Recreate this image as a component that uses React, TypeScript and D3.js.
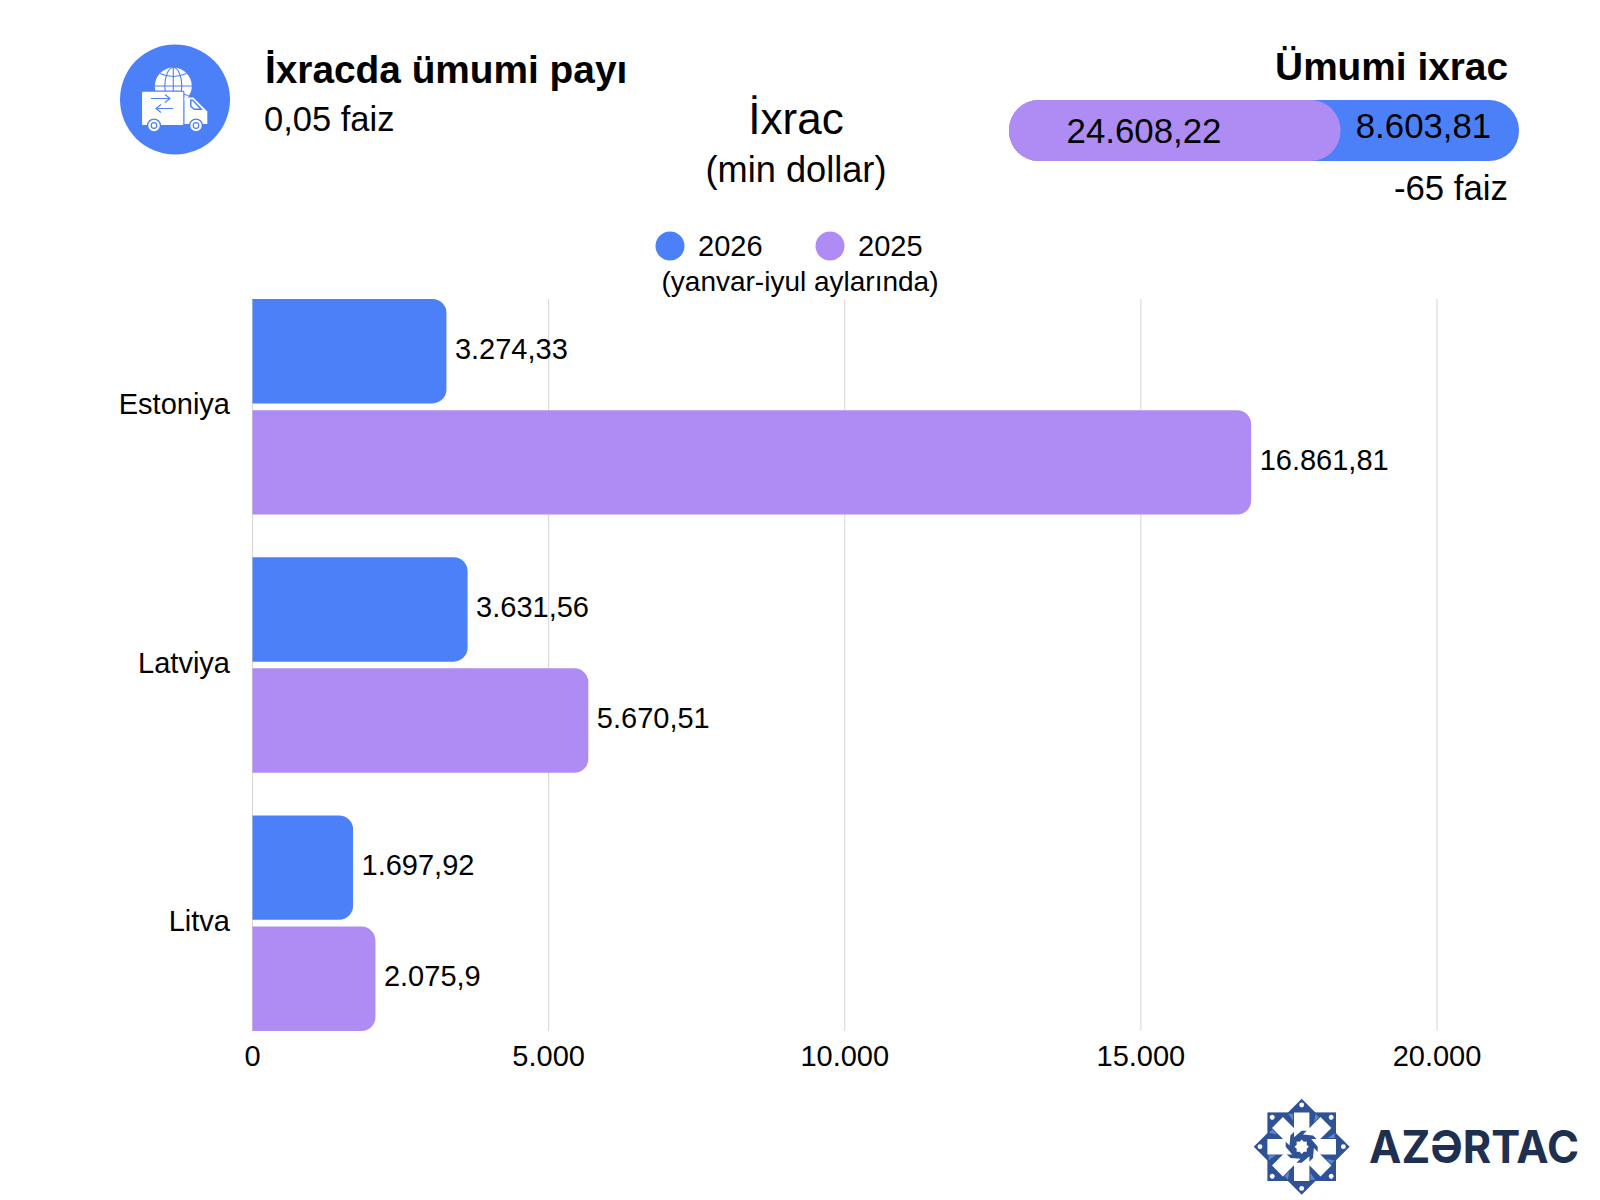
import * as d3 from 'd3';

// ─── Data ───────────────────────────────────────────────────

const COUNTRIES = ['Estoniya', 'Latviya', 'Litva'];
const YEARS = ['2026', '2025'];
const VALUES_2026 = [3274.33, 3631.56, 1697.92];
const VALUES_2025 = [16861.81, 5670.51, 2075.9];
const LABELS_2026 = ['3.274,33', '3.631,56', '1.697,92'];
const LABELS_2025 = ['16.861,81', '5.670,51', '2.075,9'];
const X_TICKS = [0, 5000, 10000, 15000, 20000];
const X_TICK_LABELS = ['0', '5.000', '10.000', '15.000', '20.000'];
const TOTAL_LABELS = ['24.608,22', '8.603,81'];
const DECLINE_PERCENT = 65;

// ─── Constants ──────────────────────────────────────────────

const BLUE = '#4c80f9';
const PURPLE = '#ae8cf4';
const GRID = '#d6d6d6';
const INK = '#000';
const NAVY = '#1e2f50';
const LOGO_BLUE = '#2f5296';
const LOGO_LIGHT = '#5f86cc';
const FONT = '"Liberation Sans", Arial, sans-serif';

const x = d3.scaleLinear().domain([0, 20000]).range([252.5, 1437]);
const y0 = d3.scaleBand().domain(COUNTRIES).range([299, 1031]).paddingInner(0.165).paddingOuter(0);
const y1 = d3.scaleBand().domain(YEARS).range([0, y0.bandwidth()]).paddingInner(0.06);
const totalX = d3.scaleLinear().domain([0, 100]).range([1009, 1519]);

// Bar with square left edge and rounded right corners
function barPath(x0: number, x1: number, top: number, h: number, r: number) {
  const p = d3.path();
  p.moveTo(x0, top);
  p.lineTo(x1 - r, top);
  p.arcTo(x1, top, x1, top + r, r);
  p.lineTo(x1, top + h - r);
  p.arcTo(x1, top + h, x1 - r, top + h, r);
  p.lineTo(x0, top + h);
  p.closePath();
  return p.toString();
}

// ─── Icons ──────────────────────────────────────────────────

function TruckIcon() {
  return (
    <g transform="translate(175,99.5)">
      <circle r={55} fill={BLUE} />
      {/* globe */}
      <circle cx={-1.7} cy={-13.5} r={18.5} fill="#fff" />
      <g fill="none" stroke={BLUE} strokeWidth={1.1}>
        <ellipse cx={-1.7} cy={-13.5} rx={8.5} ry={18.5} />
        <line x1={-1.7} y1={-32} x2={-1.7} y2={5} />
        <line x1={-20.2} y1={-13.5} x2={16.8} y2={-13.5} />
        <path d="M-15,-26 Q-1.7,-20 11.6,-26" />
        <path d="M-17,-4 Q-1.7,-9 13.6,-4" />
      </g>
      {/* box */}
      <rect x={-33.5} y={-8.4} width={42.4} height={34.5} rx={1.5} fill="#fff" stroke={BLUE} strokeWidth={1.2} />
      <path d="M-24,-1 H-5 M-10,-5 L-5,-1 L-10,3 M-2,9 H-19 M-14,5 L-19,9 L-14,13" fill="none" stroke={BLUE} strokeWidth={1.1} />
      {/* cab */}
      <path d="M9.5,-2 H18.3 L32.3,12 V24.5 H9.5 Z" fill="#fff" />
      <path d="M15,0 H18 L28,10.5 H19 L15,7 Z" fill={BLUE} />
      <path d="M16.5,1.5 H17.5 L24.5,9 H19.5 L16.5,6.4 Z" fill="#fff" />
      {[-21, 21].map((cx) => (
        <g key={cx}>
          <circle cx={cx} cy={26} r={6.4} fill="#fff" stroke={BLUE} strokeWidth={1.4} />
          <circle cx={cx} cy={26} r={2.8} fill="#fff" stroke={BLUE} strokeWidth={1.2} />
        </g>
      ))}
    </g>
  );
}

function LogoMark() {
  const angles = d3.range(8).map((i) => i * 45);
  const star = d3.range(16)
    .map((i) => {
      const r = i % 2 === 0 ? 7.2 : 5.4;
      const a = (i * Math.PI) / 8;
      return `${r * Math.sin(a)},${-r * Math.cos(a)}`;
    })
    .join(' ');
  return (
    <g transform="translate(1301.7,1146.7)">
      <rect x={-34.3} y={-34.3} width={68.6} height={68.6} fill={LOGO_BLUE} />
      <rect x={-33.9} y={-33.9} width={67.8} height={67.8} fill={LOGO_BLUE} transform="rotate(45)" />
      {angles.map((a) => (
        <g key={a} transform={`rotate(${a})`}>
          <path fill={LOGO_LIGHT} d="M-8.6,-33 V-26 L-13.5,-33 Z" />
          <path fill="#fff" d="M-7.7,-34.3 H7.7 V-16 H0 L-7.7,-9.5 Z" />
          <circle cy={-41.7} r={2.4} fill="#fff" />
        </g>
      ))}
      <circle r={9.5} fill={LOGO_BLUE} />
      <polygon points={star} fill="#fff" />
    </g>
  );
}

// ─── Component ──────────────────────────────────────────────

export default function App() {
  const series = [
    { year: YEARS[0], color: BLUE, values: VALUES_2026, labels: LABELS_2026 },
    { year: YEARS[1], color: PURPLE, values: VALUES_2025, labels: LABELS_2025 },
  ];
  const [plotTop, plotBottom] = y0.range();
  const purpleEnd = totalX(DECLINE_PERCENT);

  return (
    <svg
      width={1600}
      height={1200}
      viewBox="0 0 1600 1200"
      style={{ position: 'absolute', left: 0, top: 0, background: '#fff' }}
      fontFamily={FONT}
      fill={INK}
    >
      {/* header left */}
      <TruckIcon />
      <text x={265} y={83} fontSize={38.8} fontWeight={700}>İxracda ümumi payı</text>
      <text x={264} y={131} fontSize={34.5}>0,05 faiz</text>

      {/* title */}
      <text x={796} y={134} fontSize={44} textAnchor="middle">İxrac</text>
      <text x={796} y={182} fontSize={36.2} textAnchor="middle">(min dollar)</text>

      {/* total panel */}
      <text x={1508} y={80} fontSize={38.8} fontWeight={700} textAnchor="end">Ümumi ixrac</text>
      <rect x={totalX(0)} y={100} width={totalX(100) - totalX(0)} height={61} rx={30} fill={BLUE} />
      <rect x={totalX(0)} y={100} width={purpleEnd - totalX(0)} height={61} rx={30} fill={PURPLE} />
      <text x={1144} y={143} fontSize={34.8} textAnchor="middle">{TOTAL_LABELS[0]}</text>
      <text x={1423.5} y={138} fontSize={34.8} textAnchor="middle">{TOTAL_LABELS[1]}</text>
      <text x={1508} y={200} fontSize={34.8} textAnchor="end">{`-${DECLINE_PERCENT} faiz`}</text>

      {/* legend */}
      <circle cx={670} cy={246} r={14.5} fill={BLUE} />
      <text x={698} y={256} fontSize={29}>{YEARS[0]}</text>
      <circle cx={830} cy={246} r={14.5} fill={PURPLE} />
      <text x={858} y={256} fontSize={29}>{YEARS[1]}</text>
      <text x={800} y={291} fontSize={28} textAnchor="middle">(yanvar-iyul aylarında)</text>

      {/* grid */}
      {X_TICKS.map((t) => (
        <line key={t} x1={x(t)} x2={x(t)} y1={plotTop} y2={plotBottom} stroke={GRID} strokeWidth={1} />
      ))}

      {/* bars */}
      {COUNTRIES.map((c, i) => (
        <g key={c} transform={`translate(0,${y0(c)})`}>
          {series.map((s) => (
            <g key={s.year}>
              <path
                d={barPath(x(0), x(s.values[i]), y1(s.year)!, y1.bandwidth(), 14)}
                fill={s.color}
              />
              <text
                x={x(s.values[i]) + 8.5}
                y={y1(s.year)! + y1.bandwidth() / 2 - 2.5}
                dy="0.35em"
                fontSize={29}
              >
                {s.labels[i]}
              </text>
            </g>
          ))}
          <text x={230} y={y0.bandwidth() / 2 - 2.5} dy="0.35em" fontSize={29} textAnchor="end">{c}</text>
        </g>
      ))}

      {/* x axis labels */}
      {X_TICKS.map((t, i) => (
        <text key={t} x={x(t)} y={1066} fontSize={29} textAnchor="middle">{X_TICK_LABELS[i]}</text>
      ))}

      {/* logo */}
      <LogoMark />
      <text x={1369} y={1163} fontSize={45} fontWeight={700} fontFamily="Inter, sans-serif" fill={NAVY} textLength={210} lengthAdjust="spacingAndGlyphs">AZƏRTAC</text>
    </svg>
  );
}
